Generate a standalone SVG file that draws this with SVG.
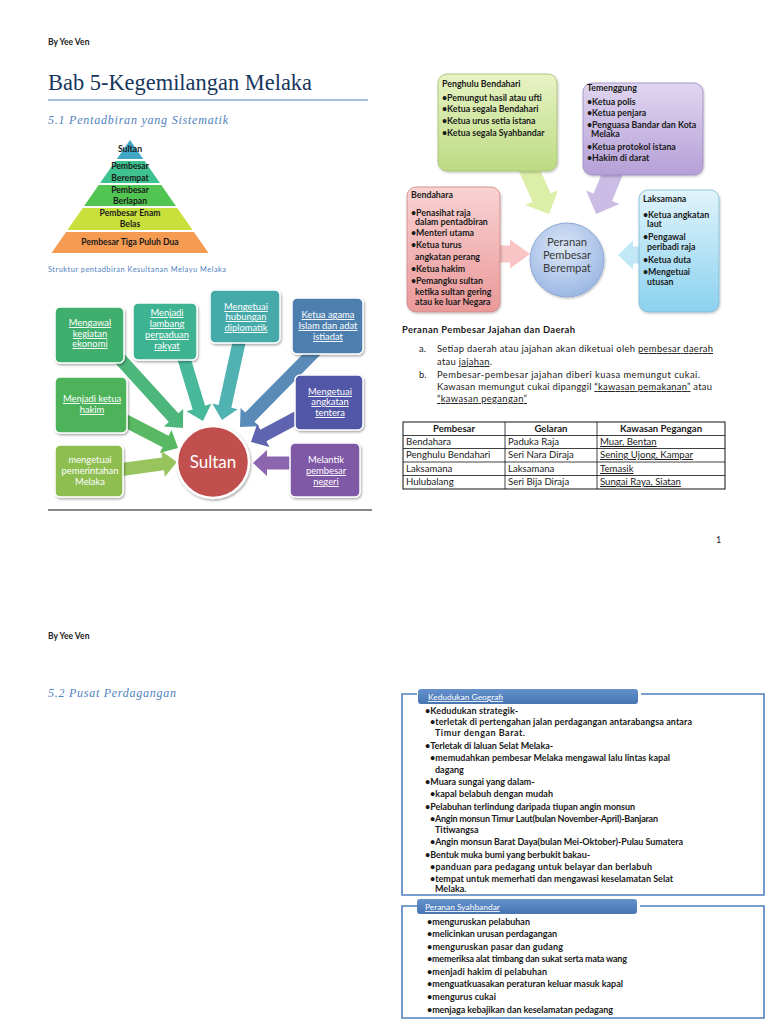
<svg xmlns="http://www.w3.org/2000/svg" width="768" height="1024" viewBox="0 0 768 1024">
<style>
.f{font-family:Lato,"Liberation Sans",sans-serif}
.hdr{font-family:Lato,"Liberation Sans",sans-serif;font-size:8.5px;font-weight:bold;fill:#222}
.ttl{font-family:"Liberation Serif",serif;font-size:22.4px;fill:#17365D}
.sub{font-family:"Liberation Serif",serif;font-style:italic;font-size:12px;fill:#4F81BD}
.pyr{font-family:Lato,"Liberation Sans",sans-serif;font-size:8.6px;font-weight:bold;fill:#1a1a1a;text-anchor:middle}
.bx{font-family:Lato,"Liberation Sans",sans-serif;font-size:9.4px;fill:#fff;text-anchor:middle}
.u{text-decoration:underline}
.bt{font-family:Lato,"Liberation Sans",sans-serif;font-size:8.8px;font-weight:bold;fill:#1a1a1a}
.bd{font-family:Lato,"Liberation Sans",sans-serif;font-size:9.4px;fill:#1a1a1a}
.tb{font-family:Lato,"Liberation Sans",sans-serif;font-size:9.6px;fill:#1a1a1a}
.lst{font-family:Lato,"Liberation Sans",sans-serif;font-size:9px;font-weight:bold;fill:#1a1a1a}
.tab{font-family:Lato,"Liberation Sans",sans-serif;font-size:8.4px;fill:#fff;text-decoration:underline}
.frame{fill:none;stroke:#4F81BD;stroke-width:1.6}
.sbox{stroke:#fff;stroke-width:1.5}
</style>
<defs>
<filter id="sh" x="-20%" y="-20%" width="150%" height="150%"><feDropShadow dx="1" dy="1.5" stdDeviation="1.2" flood-color="#000" flood-opacity="0.35"/></filter>
<filter id="sh2" x="-20%" y="-20%" width="150%" height="150%"><feDropShadow dx="0.8" dy="1.2" stdDeviation="1" flood-color="#000" flood-opacity="0.25"/></filter>
<linearGradient id="gG" x1="0" y1="0" x2="0" y2="1"><stop offset="0" stop-color="#E8F3C4"/><stop offset="1" stop-color="#BCDB84"/></linearGradient>
<linearGradient id="gP" x1="0" y1="0" x2="0" y2="1"><stop offset="0" stop-color="#E0D6F0"/><stop offset="1" stop-color="#B5A0D7"/></linearGradient>
<linearGradient id="gR" x1="0" y1="0" x2="0" y2="1"><stop offset="0" stop-color="#F9D3D3"/><stop offset="1" stop-color="#EA9898"/></linearGradient>
<linearGradient id="gC" x1="0" y1="0" x2="0" y2="1"><stop offset="0" stop-color="#E0F4FC"/><stop offset="1" stop-color="#8BD1EE"/></linearGradient>
<radialGradient id="gB" cx="0.45" cy="0.35" r="0.7"><stop offset="0" stop-color="#DCE7F7"/><stop offset="1" stop-color="#97B4E2"/></radialGradient>
<linearGradient id="gT" x1="0" y1="0" x2="0" y2="1"><stop offset="0" stop-color="#6592CC"/><stop offset="1" stop-color="#4675B2"/></linearGradient>
</defs>

<rect width="768" height="1024" fill="#fff"/>

<!-- Page 1 header -->
<text class="hdr" x="48" y="45">By Yee Ven</text>
<text class="ttl" x="48" y="90" textLength="264">Bab 5-Kegemilangan Melaka</text>
<line x1="48" y1="100" x2="368" y2="100" stroke="#4F81BD" stroke-width="1"/>
<text class="sub" x="48" y="124" textLength="180">5.1 Pentadbiran yang Sistematik</text>

<!-- Pyramid -->
<g id="pyramid">
<polygon points="130,140 143.2,159 116.8,159" fill="#42A6C6"/>
<polygon points="115.4,161 144.6,161 159.9,183 100.1,183" fill="#3EC28F"/>
<polygon points="98.7,185 161.3,185 175.9,206 84.1,206" fill="#52C452"/>
<polygon points="82.7,208 177.3,208 192.6,230 67.4,230" fill="#C8DF3C"/>
<polygon points="66.1,232 193.9,232 208.5,253 51.5,253" fill="#F59B52"/>
<text class="pyr" x="130" y="152" font-size="7.8">Sultan</text>
<text class="pyr" x="130" y="169">Pembesar</text>
<text class="pyr" x="130" y="181">Berempat</text>
<text class="pyr" x="130" y="193">Pembesar</text>
<text class="pyr" x="130" y="204">Berlapan</text>
<text class="pyr" x="130" y="216">Pembesar Enam</text>
<text class="pyr" x="130" y="227">Belas</text>
<text class="pyr" x="130" y="245">Pembesar Tiga Puluh Dua</text>
</g>
<text class="f" x="48" y="272" font-size="7.4" fill="#4F81BD" textLength="178">Struktur pentadbiran Kesultanan Melayu Melaka</text>

<!-- Connectors -->
<g id="connectors">
<path transform="translate(112,350) rotate(47.7)" d="M0,-6.5H91.5V-13L105.5,0L91.5,13V6.5H0Z" fill="#4DB67B"/>
<path transform="translate(182,352) rotate(73.1)" d="M0,-6.5H58.1V-13L72.1,0L58.1,13V6.5H0Z" fill="#48BA9B"/>
<path transform="translate(240,338) rotate(102.4)" d="M0,-6.5H70V-13L84,0L70,13V6.5H0Z" fill="#50B2B1"/>
<path transform="translate(316,350) rotate(134.6)" d="M0,-6.5H94.2V-13L108.2,0L94.2,13V6.5H0Z" fill="#5A8BB8"/>
<path transform="translate(120,418) rotate(27.3)" d="M0,-6.5H51.3V-13L65.3,0L51.3,13V6.5H0Z" fill="#58B863"/>
<path transform="translate(300,416) rotate(152.1)" d="M0,-6.5H41.5V-13L55.5,0L41.5,13V6.5H0Z" fill="#5E64B0"/>
<path transform="translate(118,470) rotate(-7.7)" d="M0,-6.5H45.5V-13L59.5,0L45.5,13V6.5H0Z" fill="#97C45D"/>
<path transform="translate(295,463) rotate(180)" d="M0,-6.5H28V-13L42,0L28,13V6.5H0Z" fill="#8B66AF"/>
<path transform="translate(527,165) rotate(65.8)" d="M0,-10H35.7V-18L53.7,0L35.7,18V10H0Z" fill="#DDEEA8"/>
<path transform="translate(614,170) rotate(112.2)" d="M0,-10H29.5V-18L47.5,0L29.5,18V10H0Z" fill="#CBBCE5"/>
<path transform="translate(499,254)" d="M0,-8.5H11V-14.5L31,0L11,14.5V8.5H0Z" fill="#F8C4C4"/>
<path transform="translate(642,255) rotate(180)" d="M0,-8.5H9V-14.5L24,0L9,14.5V8.5H0Z" fill="#C2E7F6"/>
</g>

<!-- Sultan diagram -->
<g id="n-mengawal"><rect class="sbox" x="55" y="307" width="69" height="56" rx="5" fill="#3FAE6C" filter="url(#sh)"/>
<text class="bx u" x="90" y="326">Mengawal</text><text class="bx u" x="90" y="337">kegiatan</text><text class="bx u" x="90" y="347">ekonomi</text></g>
<g id="n-lambang"><rect class="sbox" x="133" y="303" width="64" height="57" rx="5" fill="#3DB391" filter="url(#sh)"/>
<text class="bx u" x="167" y="316">Menjadi</text><text class="bx u" x="167" y="327">lambang</text><text class="bx u" x="167" y="338">perpaduan</text><text class="bx u" x="167" y="349">rakyat</text></g>
<g id="n-diplomatik"><rect class="sbox" x="210" y="290" width="70" height="53" rx="5" fill="#45AAA9" filter="url(#sh)"/>
<text class="bx u" x="246" y="310">Mengetuai</text><text class="bx u" x="246" y="320">hubungan</text><text class="bx u" x="246" y="331">diplomatik</text></g>
<g id="n-agama"><rect class="sbox" x="292" y="298" width="71" height="56" rx="5" fill="#4E7FAE" filter="url(#sh)"/>
<text class="bx u" x="328" y="318">Ketua agama</text><text class="bx u" x="328" y="329">Islam dan adat</text><text class="bx u" x="328" y="340">istiadat</text></g>
<g id="n-hakim"><rect class="sbox" x="55" y="377" width="72" height="56" rx="5" fill="#4EB35A" filter="url(#sh)"/>
<text class="bx u" x="92" y="402">Menjadi ketua</text><text class="bx u" x="92" y="413">hakim</text></g>
<g id="n-tentera"><rect class="sbox" x="295" y="375" width="68" height="55" rx="5" fill="#5157A6" filter="url(#sh)"/>
<text class="bx u" x="330" y="395">Mengetuai</text><text class="bx u" x="330" y="405">angkatan</text><text class="bx u" x="330" y="416">tentera</text></g>
<g id="n-pemerintahan"><rect class="sbox" x="55" y="445" width="68" height="52" rx="5" fill="#8DBE4F" filter="url(#sh)"/>
<text class="bx" x="90" y="463">mengetuai</text><text class="bx" x="90" y="474">pemerintahan</text><text class="bx" x="90" y="485">Melaka</text></g>
<g id="n-melantik"><rect class="sbox" x="290" y="443" width="70" height="54" rx="5" fill="#7F58A6" filter="url(#sh)"/>
<text class="bx" x="326" y="463">Melantik</text><text class="bx u" x="326" y="474">pembesar</text><text class="bx u" x="326" y="485">negeri</text></g>
<g id="n-sultan"><circle cx="213" cy="462" r="36" fill="#C0504D" stroke="#fff" stroke-width="2.5" filter="url(#sh)"/>
<text class="f" x="213" y="468" font-size="17" fill="#fff" text-anchor="middle">Sultan</text></g>
<line x1="48" y1="510" x2="372" y2="510" stroke="#111" stroke-width="1"/>

<!-- Pembesar Berempat diagram -->
<g id="n-penghulu"><rect x="438" y="74" width="119" height="97" rx="9" fill="url(#gG)" stroke="#A3BD72" stroke-width="0.8" filter="url(#sh2)"/>
<text class="bt" x="442" y="87">Penghulu Bendahari</text>
<text class="bt" x="442" y="101">•Pemungut hasil atau ufti</text>
<text class="bt" x="442" y="112">•Ketua segala Bendahari</text>
<text class="bt" x="442" y="124">•Ketua urus setia istana</text>
<text class="bt" x="442" y="136">•Ketua segala Syahbandar</text></g>
<g id="n-temenggung"><rect x="583" y="83" width="120" height="92" rx="9" fill="url(#gP)" stroke="#9B88C2" stroke-width="0.8" filter="url(#sh2)"/>
<text class="bt" x="587" y="91">Temenggung</text>
<text class="bt" x="587" y="105">•Ketua polis</text>
<text class="bt" x="587" y="116">•Ketua penjara</text>
<text class="bt" x="587" y="128">•Penguasa Bandar dan Kota</text>
<text class="bt" x="591" y="137">Melaka</text>
<text class="bt" x="587" y="150">•Ketua protokol istana</text>
<text class="bt" x="587" y="161">•Hakim di darat</text></g>
<g id="n-bendahara"><rect x="407" y="187" width="93" height="125" rx="9" fill="url(#gR)" stroke="#CC8585" stroke-width="0.8" filter="url(#sh2)"/>
<text class="bt" x="411" y="198">Bendahara</text>
<text class="bt" x="411" y="216">•Penasihat raja</text>
<text class="bt" x="415" y="225">dalam pentadbiran</text>
<text class="bt" x="411" y="236">•Menteri utama</text>
<text class="bt" x="411" y="248">•Ketua turus</text>
<text class="bt" x="415" y="260">angkatan perang</text>
<text class="bt" x="411" y="272">•Ketua hakim</text>
<text class="bt" x="411" y="284">•Pemangku sultan</text>
<text class="bt" x="415" y="295">ketika sultan gering</text>
<text class="bt" x="415" y="305">atau ke luar Negara</text></g>
<g id="n-laksamana"><rect x="639" y="190" width="80" height="122" rx="9" fill="url(#gC)" stroke="#7FB9D0" stroke-width="0.8" filter="url(#sh2)"/>
<text class="bt" x="643" y="202">Laksamana</text>
<text class="bt" x="643" y="218">•Ketua angkatan</text>
<text class="bt" x="647" y="227">laut</text>
<text class="bt" x="643" y="240">•Pengawal</text>
<text class="bt" x="647" y="250">peribadi raja</text>
<text class="bt" x="643" y="263">•Ketua duta</text>
<text class="bt" x="643" y="275">•Mengetuai</text>
<text class="bt" x="647" y="285">utusan</text></g>
<g id="n-peranan"><circle cx="567" cy="260" r="37" fill="url(#gB)" stroke="#8EA9D6" stroke-width="1" filter="url(#sh2)"/>
<text class="f" x="567" y="246" font-size="11.2" fill="#3a3a3a" text-anchor="middle">Peranan</text>
<text class="f" x="567" y="259" font-size="11.2" fill="#3a3a3a" text-anchor="middle">Pembesar</text>
<text class="f" x="567" y="272" font-size="11.2" fill="#3a3a3a" text-anchor="middle">Berempat</text></g>

<!-- Peranan Pembesar Jajahan -->
<text class="bd" x="402" y="333" font-weight="bold" textLength="173">Peranan Pembesar Jajahan dan Daerah</text>
<text class="bd" x="419" y="352">a.</text>
<text class="bd" x="437" y="352" textLength="276">Setiap daerah atau jajahan akan diketuai oleh <tspan class="u">pembesar daerah</tspan></text>
<text class="bd" x="437" y="365" textLength="55">atau <tspan class="u">jajahan</tspan>.</text>
<text class="bd" x="419" y="378">b.</text>
<text class="bd" x="437" y="378" textLength="263">Pembesar-pembesar jajahan diberi kuasa memungut cukai.</text>
<text class="bd" x="437" y="390" textLength="275">Kawasan memungut cukai dipanggil <tspan class="u">“kawasan pemakanan”</tspan> atau</text>
<text class="bd" x="437" y="402" textLength="90"><tspan class="u">“kawasan pegangan”</tspan></text>

<!-- Table -->
<g id="table">
<rect x="403" y="422" width="322" height="67" fill="none" stroke="#111" stroke-width="1"/>
<g stroke="#111" stroke-width="0.8">
<line x1="403" y1="435.5" x2="725" y2="435.5"/>
<line x1="403" y1="448.5" x2="725" y2="448.5"/>
<line x1="403" y1="462" x2="725" y2="462"/>
<line x1="403" y1="475.5" x2="725" y2="475.5"/>
<line x1="505" y1="422" x2="505" y2="489"/>
<line x1="597" y1="422" x2="597" y2="489"/>
</g>
<text class="tb" x="454" y="432" text-anchor="middle" font-weight="bold">Pembesar</text>
<text class="tb" x="551" y="432" text-anchor="middle" font-weight="bold">Gelaran</text>
<text class="tb" x="661" y="432" text-anchor="middle" font-weight="bold">Kawasan Pegangan</text>
<text class="tb" x="406" y="445">Bendahara</text>
<text class="tb" x="508" y="445">Paduka Raja</text>
<text class="tb u" x="600" y="445">Muar, Bentan</text>
<text class="tb" x="406" y="458">Penghulu Bendahari</text>
<text class="tb" x="508" y="458">Seri Nara Diraja</text>
<text class="tb u" x="600" y="458">Sening Ujong, Kampar</text>
<text class="tb" x="406" y="472">Laksamana</text>
<text class="tb" x="508" y="472">Laksamana</text>
<text class="tb u" x="600" y="472">Temasik</text>
<text class="tb" x="406" y="485">Hulubalang</text>
<text class="tb" x="508" y="485">Seri Bija Diraja</text>
<text class="tb u" x="600" y="485">Sungai Raya, Siatan</text>
</g>

<text class="f" x="716" y="543" font-size="9" fill="#222">1</text>

<!-- Page 2 -->
<text class="hdr" x="48" y="639">By Yee Ven</text>
<text class="sub" x="48" y="697" textLength="128">5.2 Pusat Perdagangan</text>

<g id="n-geografi">
<path class="frame" d="M417,694H402V895H764V694H641"/>
<rect x="418" y="689" width="220" height="15" rx="3" fill="url(#gT)"/>
<text class="tab" x="428" y="700">Kedudukan Geografi</text>
<text class="lst" x="425" y="714" textLength="93">•Kedudukan strategik-</text>
<text class="lst" x="430" y="725" textLength="262">•terletak di pertengahan jalan perdagangan antarabangsa antara</text>
<text class="lst" x="435" y="736" textLength="90">Timur dengan Barat.</text>
<text class="lst" x="425" y="749" textLength="128">•Terletak di laluan Selat Melaka-</text>
<text class="lst" x="430" y="761" textLength="240">•memudahkan pembesar Melaka mengawal lalu lintas kapal</text>
<text class="lst" x="435" y="773">dagang</text>
<text class="lst" x="425" y="785">•Muara sungai yang dalam-</text>
<text class="lst" x="430" y="797" textLength="123">•kapal belabuh dengan mudah</text>
<text class="lst" x="425" y="810" textLength="210">•Pelabuhan terlindung daripada tiupan angin monsun</text>
<text class="lst" x="430" y="822" textLength="228">•Angin monsun Timur Laut(bulan November-April)-Banjaran</text>
<text class="lst" x="435" y="833">Titiwangsa</text>
<text class="lst" x="430" y="845" textLength="253">•Angin monsun Barat Daya(bulan Mei-Oktober)-Pulau Sumatera</text>
<text class="lst" x="425" y="858" textLength="165">•Bentuk muka bumi yang berbukit bakau-</text>
<text class="lst" x="430" y="870" textLength="222">•panduan para pedagang untuk belayar dan berlabuh</text>
<text class="lst" x="430" y="882" textLength="243">•tempat untuk memerhati dan mengawasi keselamatan Selat</text>
<text class="lst" x="435" y="892">Melaka.</text>
</g>

<g id="n-syahbandar">
<path class="frame" d="M417,906H402V1018H764V906H640"/>
<rect x="417" y="899" width="220" height="15" rx="3" fill="url(#gT)"/>
<text class="tab" x="425" y="910">Peranan Syahbandar</text>
<text class="lst" x="427" y="925" textLength="103">•menguruskan pelabuhan</text>
<text class="lst" x="427" y="937" textLength="130">•melicinkan urusan perdagangan</text>
<text class="lst" x="427" y="950" textLength="136">•menguruskan pasar dan gudang</text>
<text class="lst" x="427" y="962" textLength="200">•memeriksa alat timbang dan sukat serta mata wang</text>
<text class="lst" x="427" y="975" textLength="120">•menjadi hakim di pelabuhan</text>
<text class="lst" x="427" y="987" textLength="196">•menguatkuasakan peraturan keluar masuk kapal</text>
<text class="lst" x="427" y="1000" textLength="69">•mengurus cukai</text>
<text class="lst" x="427" y="1013" textLength="186">•menjaga kebajikan dan keselamatan pedagang</text>
</g>
</svg>
